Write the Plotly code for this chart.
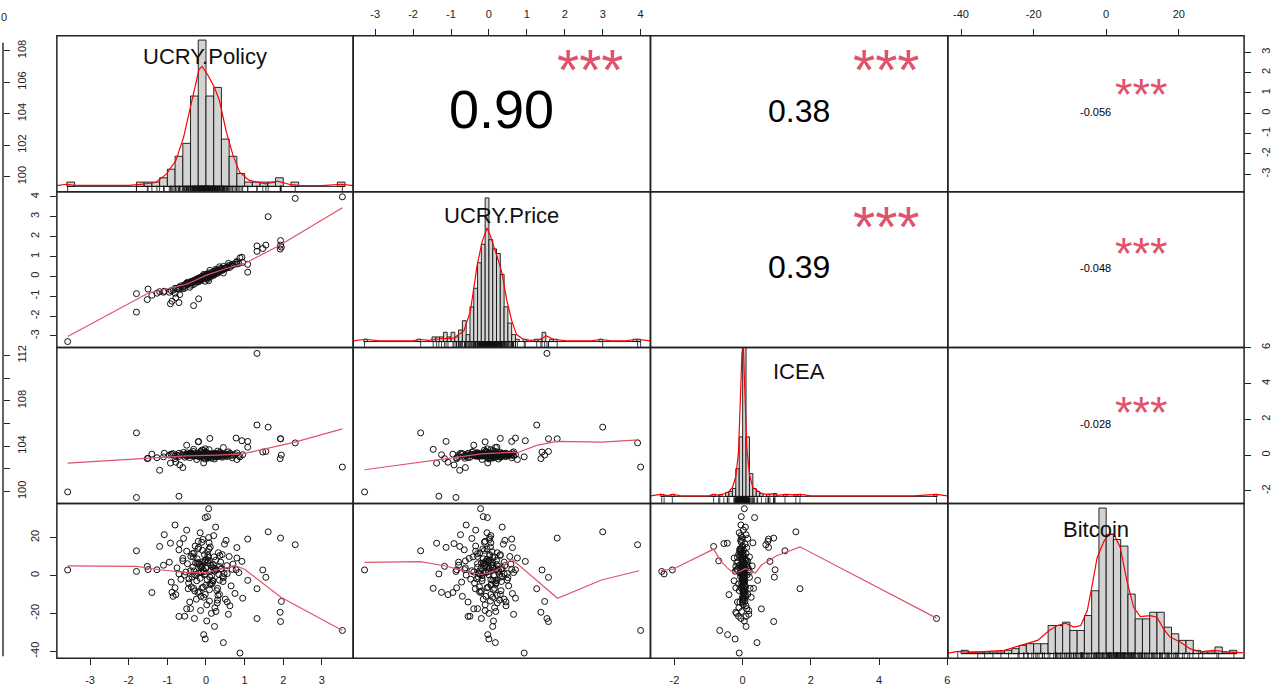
import plotly.graph_objects as go

# ---------------- data ----------------
var_names = ["UCRY.Policy", "UCRY.Price", "ICEA", "Bitcoin"]

policy = [-3.58, 3.53, 2.31, 1.61, 1.32, -1.80, -1.80, -0.70, 1.93, 1.93,
          1.95, 1.92, 1.32, 1.47, 1.55, 1.08, 1.08, 0.93, 0.78, 0.10,
          -0.20, -0.50, -1.20, -1.52, -1.50, -0.32, -0.92, -0.19, -0.78, -0.68,
          0.07, 0.04, -0.02, 0.88, 0.45, -0.06, -0.02, 0.22, -1.27, -1.40,
          -1.08, -0.80, -0.50, -1.10, -0.85, -0.55, -0.40, -0.30, 0.80, 0.55,
          0.35, 0.50, -0.88, -0.70, -0.60,
          -0.05, 0.12, -0.15, 0.25, -0.30, 0.40, -0.45, 0.05, -0.10, 0.18,
          0.32, -0.22, 0.55, -0.60, 0.65, -0.02, 0.08, -0.35, 0.28, -0.12,
          0.15, -0.25, 0.48, -0.40, 0.70, -0.08, 0.02, 0.35, -0.50, 0.60,
          -0.18, 0.20, -0.65, 0.45, -0.03, 0.10, -0.28, 0.30, -0.75, 0.75,
          -0.14, 0.06, -0.38, 0.52, -0.55, 0.00, -0.20, 0.38, -0.90, 0.85,
          -0.06, 0.22, -0.33, 0.14, -0.48, 0.62, -0.70, 0.42, -0.10, 0.30,
          -0.95, 0.95, -0.24, 0.08, -0.42, 0.68, 0.02, -0.58, 0.25, -0.15,
          0.58, -0.80, 0.80, -0.02, 0.35,
          -0.12, 0.03, 0.16, -0.27, 0.09, -0.07, 0.21, -0.36, 0.27, -0.16,
          0.13, -0.04, 0.33, -0.21, 0.06, -0.31, 0.44, -0.09, 0.19, -0.44,
          0.01, -0.13, 0.24, -0.26, 0.36, -0.01, 0.11, -0.19, 0.29, -0.34,
          0.47, -0.07, 0.04, -0.23, 0.17, -0.11, 0.39, -0.29, 0.07, -0.04,
          0.23, -0.17, 0.12, -0.39, 0.31, 0.00, -0.09, 0.16, -0.52, 0.54,
          -0.21, 0.09, -0.01, 0.26, -0.14, 0.43, -0.31, 0.05, -0.46, 0.19]

price = [-3.28, 4.00, 3.92, 3.00, 1.53, -1.80, -0.87, -1.32, 1.80, 1.57,
         1.47, 1.37, 1.26, 1.40, 1.57, 0.21, 0.60, 0.96, 0.70, 0.30,
         -0.10, -0.40, -0.77, -1.17, -0.64, -1.47, -1.38, -1.13, -1.08, -0.92,
         -0.22, -0.15, -0.04, 0.93, 0.17, -0.03, 0.00, 0.10, -0.85, -0.95,
         -0.75, -0.60, -0.35, -0.80, -0.70, -0.50, -0.30, -0.20, 0.62, 0.45,
         0.30, 0.40, -1.25, -0.55, -0.62,
         -0.02, 0.08, -0.18, 0.20, -0.22, 0.35, -0.38, 0.02, -0.05, 0.15,
         0.22, -0.12, 0.48, -0.52, 0.52, 0.05, -0.05, -0.30, 0.32, -0.20,
         0.12, -0.15, 0.38, -0.45, 0.58, 0.02, -0.10, 0.25, -0.35, 0.55,
         -0.25, 0.05, -0.48, 0.50, -0.08, 0.18, -0.35, 0.28, -0.62, 0.62,
         -0.10, 0.10, -0.25, 0.42, -0.60, 0.00, -0.28, 0.40, -0.72, 0.65,
         0.10, 0.25, -0.42, 0.00, -0.30, 0.45, -0.65, 0.30, -0.12, 0.15,
         -0.80, 0.70, -0.18, 0.05, -0.55, 0.60, 0.12, -0.45, 0.35, -0.05,
         0.65, -0.85, 0.75, -0.25, 0.48,
         -0.08, 0.05, 0.10, -0.20, 0.12, -0.02, 0.15, -0.28, 0.25, -0.10,
         0.06, 0.02, 0.28, -0.22, 0.00, -0.25, 0.33, -0.12, 0.20, -0.32,
         -0.05, -0.08, 0.18, -0.18, 0.30, 0.05, 0.04, -0.15, 0.22, -0.30,
         0.40, -0.02, 0.08, -0.15, 0.10, -0.12, 0.32, -0.20, 0.02, 0.00,
         0.15, -0.10, 0.08, -0.30, 0.22, -0.06, -0.02, 0.18, -0.40, 0.42,
         -0.16, 0.04, 0.04, 0.18, -0.08, 0.35, -0.24, 0.10, -0.36, 0.12]

icea = [-2.06, -0.67, 0.68, 1.56, 5.68, 1.24, -2.37, -2.30, 0.91, 0.91,
        0.00, -0.20, 1.68, 0.17, 0.20, 0.44, 0.76, 0.80, 0.95, 0.93,
        0.74, 0.55, -0.85, -0.20, -0.18, 0.32, -0.45, 0.76, -0.40, -0.55,
        0.05, -0.04, 0.35, -0.10, 0.42, -0.44, -0.22, 0.10, -0.15, 0.05,
        0.10, -0.05, 0.02, -0.10, 0.08, -0.12, 0.12, -0.05, 0.12, -0.08,
        0.15, 0.05, 0.02, 0.10, -0.70,
        0.01, -0.02, 0.03, 0.00, -0.01, 0.04, -0.03, 0.02, -0.05, 0.06,
        -0.04, 0.05, 0.01, 0.00, -0.02, 0.08, -0.08, 0.10, -0.10, 0.00,
        0.03, -0.02, 0.07, 0.04, 0.00, -0.03, 0.02, 0.12, -0.06, 0.05,
        0.07, -0.05, 0.03, -0.01, 0.15, -0.12, 0.00, 0.02, -0.02, 0.03,
        0.18, -0.15, 0.06, -0.06, 0.02, 0.00, -0.08, 0.00, 0.05, -0.04,
        0.25, -0.22, 0.20, -0.18, 0.12, 0.10, -0.08, -0.12, 0.28, 0.22,
        0.00, 0.02, -0.25, 0.30, -0.15, -0.15, 0.05, 0.15, 0.08, -0.10,
        0.18, -0.20, -0.25, 0.00, 0.05,
        0.02, -0.01, 0.04, -0.03, 0.00, 0.05, -0.05, 0.01, 0.03, -0.02,
        0.06, 0.00, -0.04, 0.02, 0.08, -0.06, 0.01, 0.03, -0.01, 0.04,
        -0.03, 0.00, 0.02, 0.07, -0.07, 0.01, -0.02, 0.05, 0.00, -0.01,
        0.03, 0.09, -0.09, 0.00, 0.02, -0.04, 0.06, 0.01, -0.01, 0.13,
        -0.11, 0.04, 0.00, -0.02, 0.03, 0.16, -0.14, 0.01, 0.00, 0.02,
        -0.05, 0.07, 0.11, -0.03, 0.20, -0.06, 0.01, -0.17, 0.04, 0.00]

bitcoin = [2.9, -29.0, 16.2, 23.0, -22.7, 13.0, 2.1, 0.8, 19.7, -24.3,
           -13.7, -19.4, -7.0, 2.9, -1.0, -2.6, 19.2, 7.4, 3.0, -0.9,
           18.0, -17.6, 15.3, 4.8, 3.1, -6.8, 17.0, 14.8, -10.1, 16.8,
           35.2, 31.0, 30.5, -40.9, -35.4, -31.2, -33.5, -26.9, 3.0, -9.0,
           21.5, 26.6, 23.9, 5.4, -11.0, -21.5, -17.5, -22.7, 14.7, -14.0,
           -10.0, -12.5, -8.9, -21.6, 7.7,
           2.0, 5.5, -1.5, 8.0, 0.5, 3.5, -4.0, 10.5, -6.5, -3.0,
           12.0, 6.8, 1.0, 9.0, -5.5, -10.0, 14.0, 11.5, -8.0, 4.2,
           0.0, -12.5, 16.5, 2.5, 6.0, 19.0, -15.5, 4.8, 12.8, 10.0,
           -8.5, 21.0, -2.0, -1.2, 7.5, -4.5, 15.5, -13.0, 4.0, -9.5,
           -18.5, 9.5, -6.0, 18.5, 0.2, 3.8, 1.2, 7.0, -3.5, 1.5,
           -11.5, 2.2, 9.8, -20.0, 6.2, -16.0, 13.5, 11.0, 5.0, -6.8,
           7.0, -12.0, -2.8, 17.2, -14.0, 3.2, -24.0, 19.5, 25.5, 22.5,
           -20.5, -6.5, 9.2, 0.8, -2.5,
           1.5, -2.2, 4.5, 6.5, -7.5, 3.0, 9.8, -0.8, 2.8, 5.0,
           -4.8, 11.0, 0.6, -9.0, 7.8, 2.4, -3.2, 13.2, 5.8, -1.8,
           8.5, -11.0, 3.6, 0.0, 10.5, -5.2, 15.0, 6.5, -14.5, 4.4,
           1.0, -6.2, 12.5, 8.8, -2.6, 17.5, 3.3, -8.2, 20.0, 0.3,
           -17.0, 6.0, 2.6, 10.0, -10.5, 4.0, 7.2, -4.0, 1.8, 5.2,
           14.0, -13.5, 8.0, -19.0, 2.0, -0.5, 11.8, 6.8, -7.0, 3.9]

# histograms (bin left edges, bin width, bar heights)
policy_bin_left = [-3.6, -1.8, -1.6, -1.4, -1.2, -1.0, -0.8, -0.6, -0.4, -0.2, 0.0,
                   0.2, 0.4, 0.6, 0.8, 1.0, 1.2, 1.4, 1.6, 1.8, 2.2, 3.4]
policy_bin_width = 0.2
policy_counts = [1, 1, 1, 1, 2, 4, 7, 10, 21, 34, 21, 23, 11, 7, 3, 1, 1, 1, 1, 2, 1, 1]

price_bin_left = [-3.3, -1.9, -1.5, -1.4, -1.3, -1.2, -1.1, -1.0, -0.9, -0.8, -0.7, -0.6,
                  -0.5, -0.4, -0.3, -0.2, -0.1, 0.0, 0.1, 0.2, 0.3, 0.4, 0.5, 0.6, 0.7,
                  0.9, 1.2, 1.3, 1.4, 1.6, 1.7, 2.9, 3.8, 3.9]
price_bin_width = 0.1
price_counts = [1, 1, 2, 2, 2, 4, 2, 4, 2, 5, 9, 3, 15, 23, 34, 42, 62, 44, 40, 38,
                29, 15, 8, 3, 1, 1, 1, 1, 4, 1, 1, 1, 1, 1]

icea_bin_left = [-2.4, -2.1, -0.9, -0.7, -0.5, -0.4, -0.3, -0.2, -0.1, 0.0, 0.1, 0.2,
                 0.3, 0.4, 0.5, 0.7, 0.9, 1.2, 1.5, 1.6, 5.6]
icea_bin_width = 0.1
icea_counts = [2, 2, 2, 2, 4, 5, 8, 28, 60, 150, 60, 23, 8, 5, 3, 2, 3, 2, 2, 2, 2]

bitcoin_bin_left = [-40, -38, -36, -34, -32, -30, -28, -26, -24, -22, -20, -18, -16, -14,
                    -12, -10, -8, -6, -4, -2, 0, 2, 4, 6, 8, 10, 12, 14, 16, 18, 20, 22,
                    24, 26, 28, 30, 32, 34]
bitcoin_bin_width = 2
bitcoin_counts = [2, 1, 1, 1, 1, 1, 2, 3, 5, 6, 6, 6, 17, 17, 19, 14, 14, 23, 38, 88,
                  72, 69, 65, 36, 21, 21, 25, 25, 16, 12, 8, 8, 2, 1, 1, 4, 1, 2]

# density curves
policy_dens_x = [-3.86, -3.62, -3.4, -2.5, -2.0, -1.7, -1.3, -1.02, -0.78, -0.58, -0.37,
                 -0.18, -0.1, 0.04, 0.22, 0.35, 0.52, 0.7, 0.87, 1.12, 1.55, 1.85, 2.15,
                 2.4, 3.0, 3.35, 3.5, 3.81]
policy_dens_y = [0.2, 0.5, 0.25, 0.23, 0.25, 0.45, 0.9, 2.9, 6.0, 11.4, 19.9, 27.2, 27.9,
                 26.0, 23.0, 19.9, 12.9, 7.2, 3.3, 1.4, 0.6, 1.2, 0.5, 0.23, 0.2, 0.3,
                 0.5, 0.2]
price_dens_x = [-3.58, -3.25, -2.9, -2.0, -1.83, -1.6, -1.3, -0.93, -0.66, -0.49, -0.31,
                -0.18, -0.05, 0.03, 0.21, 0.34, 0.47, 0.6, 0.73, 0.9, 1.1, 1.35, 1.52,
                1.7, 2.05, 2.7, 2.95, 3.2, 3.6, 3.9, 4.26]
price_dens_y = [0.3, 1.0, 0.3, 0.3, 1.0, 0.5, 1.2, 1.5, 4.6, 13, 33, 43, 49, 46, 37, 30,
                18, 9, 3, 1.0, 0.5, 1.0, 2.4, 1.0, 0.3, 0.3, 1.0, 0.3, 0.3, 1.0, 0.3]
icea_dens_x = [-2.7, -2.4, -2.2, -2.05, -1.8, -1.0, -0.85, -0.7, -0.55, -0.4, -0.3, -0.2,
               -0.12, -0.06, -0.02, 0.02, 0.06, 0.12, 0.2, 0.3, 0.42, 0.55, 0.7, 0.85,
               1.0, 1.25, 1.5, 1.7, 2.0, 5.0, 5.68, 6.0]
icea_dens_y = [0.5, 2, 0.8, 2, 0.5, 0.5, 2, 1.0, 2.5, 5, 9, 20, 45, 100, 145, 152, 110,
               50, 22, 9, 6, 3, 2, 2.5, 1, 2, 1.5, 2, 0.5, 0.5, 2, 0.5]
bitcoin_dens_x = [-43.6, -40.8, -37.2, -28.0, -23.5, -18.9, -15.7, -13.4, -11.2, -8.9,
                  -7.0, -5.2, -3.8, -2.5, -0.6, 0.7, 2.1, 3.9, 5.7, 7.6, 9.4, 12.1, 14.0,
                  15.8, 17.6, 20.4, 23.1, 25.8, 29.5, 33.2, 37.7]
bitcoin_dens_y = [0.3, 1.4, 0.8, 2.0, 5.0, 8.0, 14.0, 17.0, 18.4, 16.0, 17.0, 26.0, 42.0,
                  58.0, 68.0, 72.0, 72.4, 64.0, 44.0, 28.0, 22.4, 23.0, 22.0, 15.0, 10.0,
                  7.0, 3.0, 1.0, 2.0, 1.0, 0.4]

# smoothing lines in the lower panels
smooth_price_policy_x = [-3.58, -1.5, -0.5, 0.0, 0.5, 1.0, 1.9, 3.53]
smooth_price_policy_y = [-3.03, -0.85, -0.4, 0.05, 0.38, 0.65, 1.55, 3.45]
smooth_icea_policy_x = [-3.58, -1.5, -0.5, 0.3, 0.95, 2.3, 3.53]
smooth_icea_policy_y = [-0.45, -0.17, -0.05, 0.0, 0.07, 0.72, 1.46]
smooth_btc_policy_x = [-3.58, -1.8, -1.2, -0.5, 0.0, 0.4, 0.75, 1.0, 1.94, 3.53]
smooth_btc_policy_y = [5.1, 4.8, 3.0, 1.5, 1.5, 3.5, 5.2, 3.3, -11.5, -29.0]
smooth_icea_price_x = [-3.28, -1.32, -0.2, 0.8, 1.26, 1.8, 2.97, 3.96]
smooth_icea_price_y = [-0.82, -0.26, 0.07, 0.17, 0.54, 0.76, 0.72, 0.85]
smooth_btc_price_x = [-3.28, -1.81, -1.14, -0.6, -0.2, 0.1, 0.35, 0.6, 1.81, 2.97, 3.96]
smooth_btc_price_y = [6.9, 7.3, 5.0, 2.0, 0.5, 2.0, 4.5, 8.7, -12.0, -2.4, 2.5]
smooth_btc_icea_x = [-2.39, -2.03, -0.85, -0.65, -0.45, -0.3, -0.1, 0.08, 0.25, 0.37, 0.55,
                     1.0, 1.68, 5.68]
smooth_btc_icea_y = [2.5, 3.4, 13.9, 7.8, 4.0, 1.8, 1.9, 3.6, 2.6, 1.2, 5.5, 10.4, 15.1, -22.5]

# correlation texts for the upper panels
cor_text = {(0, 1): "0.90", (0, 2): "0.38", (0, 3): "-0.056",
            (1, 2): "0.39", (1, 3): "-0.048", (2, 3): "-0.028"}
signif_text = "***"

# tick labels
policy_ticks = [-3, -2, -1, 0, 1, 2, 3]
price_ticks = [-3, -2, -1, 0, 1, 2, 3, 4]
icea_ticks = [-2, 0, 2, 4, 6]
bitcoin_ticks = [-40, -20, 0, 20]
stray_row1_ticks = [100, 102, 104, 106, 108]
stray_row3_ticks = [100, 102, 104, 106, 108, 110, 112]
stray_row3_labels = ["100", "", "104", "", "108", "", "112"]

# ---------------- layout geometry ----------------
W, H = 1281, 693
FONT = "Liberation Sans, Arial, Helvetica, sans-serif"
INK = "#222222"
col_px = [57, 354, 652, 950, 1247]
row_px = [31, 188, 345, 502, 658]
label_offset = [21, 24, 24, 26]
var_ranges = [[-3.86, 3.81], [-3.58, 4.26], [-2.70, 6.01], [-43.65, 38.0]]
hist_ranges = [[-1.22, 35.0], [-2.57, 64.7], [-7.0, 150.0], [-2.8, 90.8]]

data = [policy, price, icea, bitcoin]
hists = [(policy_bin_left, policy_bin_width, policy_counts),
         (price_bin_left, price_bin_width, price_counts),
         (icea_bin_left, icea_bin_width, icea_counts),
         (bitcoin_bin_left, bitcoin_bin_width, bitcoin_counts)]
dens = [(policy_dens_x, policy_dens_y), (price_dens_x, price_dens_y),
        (icea_dens_x, icea_dens_y), (bitcoin_dens_x, bitcoin_dens_y)]
smooth = {(1, 0): (smooth_price_policy_x, smooth_price_policy_y),
          (2, 0): (smooth_icea_policy_x, smooth_icea_policy_y),
          (3, 0): (smooth_btc_policy_x, smooth_btc_policy_y),
          (2, 1): (smooth_icea_price_x, smooth_icea_price_y),
          (3, 1): (smooth_btc_price_x, smooth_btc_price_y),
          (3, 2): (smooth_btc_icea_x, smooth_btc_icea_y)}


def fx(p):
    return p / W


def fy(p):
    return 1 - p / H


def axn(k, kind):
    return kind if k == 1 else f"{kind}{k}"


def lkey(k, kind):
    return kind + "axis" + ("" if k == 1 else str(k))


base_axis = dict(showgrid=False, zeroline=False, showline=False, showticklabels=False,
                 ticks="", fixedrange=True)


def tick_style(vals, side, vertical):
    d = dict(showticklabels=True, ticks="outside", ticklen=6, tickwidth=1, tickcolor=INK,
             tickmode="array", tickvals=vals, ticktext=[str(v) for v in vals],
             tickfont=dict(family=FONT, size=11, color=INK), side=side,
             ticklabelstandoff=6)
    if vertical:
        d["tickangle"] = -90
    return d


fig = go.Figure()
layout = dict(width=W, height=H, margin=dict(l=0, r=0, t=0, b=0),
              paper_bgcolor="white", plot_bgcolor="white", showlegend=False,
              font=dict(family=FONT, size=11, color=INK), barmode="overlay")

tick_axes = {
    ("x", 0, 1): tick_style(price_ticks, "top", False),
    ("x", 0, 3): tick_style(bitcoin_ticks, "top", False),
    ("x", 3, 0): tick_style(policy_ticks, "bottom", False),
    ("x", 3, 2): tick_style(icea_ticks, "bottom", False),
    ("y", 1, 0): tick_style(price_ticks, "left", True),
    ("y", 3, 0): tick_style(bitcoin_ticks, "left", True),
    ("y", 0, 3): tick_style(policy_ticks, "right", True),
    ("y", 2, 3): tick_style(icea_ticks, "right", True),
}

shapes = []
annotations = []

for r in range(4):
    for c in range(4):
        k = r * 4 + c + 1
        xa = dict(base_axis, domain=[fx(col_px[c]), fx(col_px[c + 1])],
                  range=var_ranges[c], anchor=axn(k, "y"))
        ya = dict(base_axis, domain=[fy(row_px[r + 1]), fy(row_px[r])],
                  range=hist_ranges[r] if r == c else var_ranges[r], anchor=axn(k, "x"))
        xa.update(tick_axes.get(("x", r, c), {}))
        ya.update(tick_axes.get(("y", r, c), {}))
        layout[lkey(k, "x")] = xa
        layout[lkey(k, "y")] = ya
        xr, yr = axn(k, "x"), axn(k, "y")

        if r == c:
            left, w, counts = hists[r]
            fig.add_trace(go.Bar(x=[v + w / 2 for v in left], y=counts, width=w,
                                 marker=dict(color="#D3D3D3", line=dict(color="#111", width=0.9)),
                                 xaxis=xr, yaxis=yr, hoverinfo="skip"))
            fig.add_trace(go.Scatter(x=[min(left), max(left) + w], y=[0, 0], mode="lines",
                                     line=dict(color="#111", width=0.9),
                                     xaxis=xr, yaxis=yr, hoverinfo="skip"))
            dx, dy = dens[r]
            fig.add_trace(go.Scatter(x=dx, y=dy, mode="lines", line=dict(color="red", width=1.2),
                                     xaxis=xr, yaxis=yr, hoverinfo="skip"))
            lo, hi = hist_ranges[r]
            rug_y = lo + (hi - lo) * 2.5 / (row_px[r + 1] - row_px[r])
            fig.add_trace(go.Scatter(x=data[r], y=[rug_y] * len(data[r]), mode="markers",
                                     marker=dict(symbol="line-ns", size=5,
                                                 line=dict(color="#111", width=0.8)),
                                     xaxis=xr, yaxis=yr, hoverinfo="skip"))
            annotations.append(dict(x=fx((col_px[c] + col_px[c + 1]) / 2),
                                    y=fy(row_px[r] + label_offset[r]), xref="paper",
                                    yref="paper", text=var_names[r], showarrow=False,
                                    font=dict(family=FONT, size=22, color="#111"),
                                    xanchor="center", yanchor="middle"))
        elif r > c:
            fig.add_trace(go.Scatter(x=data[c], y=data[r], mode="markers",
                                     marker=dict(symbol="circle-open", size=6,
                                                 color="#111", line=dict(width=1)),
                                     xaxis=xr, yaxis=yr, hoverinfo="skip"))
            sx, sy = smooth[(r, c)]
            fig.add_trace(go.Scatter(x=sx, y=sy, mode="lines",
                                     line=dict(color="#DF536B", width=1.2),
                                     xaxis=xr, yaxis=yr, hoverinfo="skip"))
        else:
            fig.add_trace(go.Scatter(x=[], y=[], xaxis=xr, yaxis=yr, hoverinfo="skip"))

        shapes.append(dict(type="rect", xref="paper", yref="paper",
                           x0=fx(col_px[c]), x1=fx(col_px[c + 1]),
                           y0=fy(row_px[r + 1]), y1=fy(row_px[r]),
                           line=dict(color="#222", width=1.5)))

# correlation numbers and significance stars
cx = lambda c: (col_px[c] + col_px[c + 1]) / 2
cor_style = {(0, 1): (54, 105), (0, 2): (32, 107), (1, 2): (32, 264),
             (0, 3): (11, 108), (1, 3): (11, 265), (2, 3): (11, 422)}
star_style = {(0, 1): (57, 592, 61), (0, 2): (57, 889, 61), (1, 2): (57, 889, 220),
              (0, 3): (45, 1144, 87), (1, 3): (45, 1144, 247), (2, 3): (45, 1144, 407)}
for key, txt in cor_text.items():
    size, ypx = cor_style[key]
    annotations.append(dict(x=fx(cx(key[1])), y=fy(ypx), xref="paper", yref="paper",
                            text=txt, showarrow=False, xanchor="center", yanchor="middle",
                            font=dict(family=FONT, size=size, color="black")))
    ssize, sx_, sy_ = star_style[key]
    annotations.append(dict(x=fx(sx_), y=fy(sy_ + 0.07 * ssize), xref="paper", yref="paper",
                            text=signif_text, showarrow=False, xanchor="center",
                            yanchor="middle",
                            font=dict(family=FONT, size=ssize, color="#DF536B")))

# stray axis of a neighbouring window visible at the left edge
layout["yaxis17"] = dict(overlaying="y", anchor="free", position=fx(3), side="right",
                         range=[99.06, 108.94], showgrid=False, zeroline=False,
                         showline=False, ticks="outside", ticklen=6, tickcolor=INK,
                         tickmode="array", tickvals=stray_row1_ticks,
                         ticktext=[str(v) for v in stray_row1_ticks], tickangle=-90,
                         tickfont=dict(family=FONT, size=11, color=INK),
                         ticklabelstandoff=3, fixedrange=True)
layout["yaxis18"] = dict(overlaying="y9", anchor="free", position=fx(3), side="right",
                         range=[98.95, 112.7], showgrid=False, zeroline=False,
                         showline=False, ticks="outside", ticklen=6, tickcolor=INK,
                         tickmode="array", tickvals=stray_row3_ticks,
                         ticktext=stray_row3_labels, tickangle=-90,
                         tickfont=dict(family=FONT, size=11, color=INK),
                         ticklabelstandoff=3, fixedrange=True)
fig.add_trace(go.Scatter(x=[], y=[], xaxis="x", yaxis="y17", hoverinfo="skip"))
fig.add_trace(go.Scatter(x=[], y=[], xaxis="x9", yaxis="y18", hoverinfo="skip"))
shapes.append(dict(type="line", xref="paper", yref="paper", x0=fx(3), x1=fx(3),
                   y0=fy(38), y1=fy(656), line=dict(color="#333", width=1.5)))
annotations.append(dict(x=fx(4), y=fy(12), xref="paper", yref="paper", text="0",
                        showarrow=False, xanchor="center", yanchor="middle",
                        font=dict(family=FONT, size=11, color=INK)))

layout["shapes"] = shapes
layout["annotations"] = annotations
fig.update_layout(**layout)
fig.write_html("out.html", config={"displayModeBar": False},
               post_script="document.body.style.margin='0px';"
                           "document.body.style.overflow='hidden';")
